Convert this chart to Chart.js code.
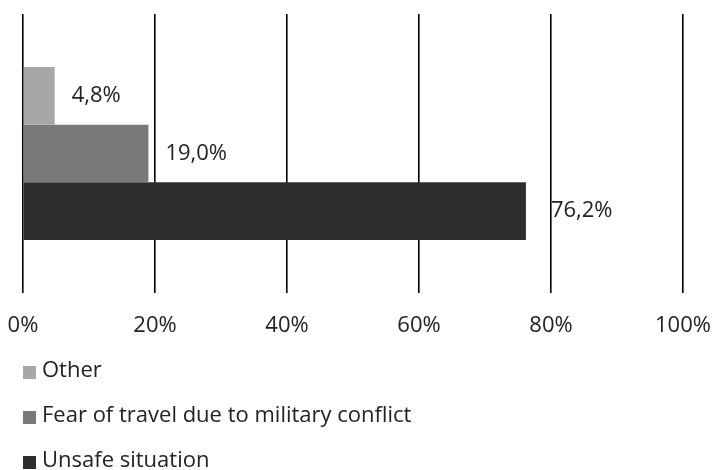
<!DOCTYPE html>
<html>
<head>
<meta charset="utf-8">
<script src="https://cdn.jsdelivr.net/npm/chart.js@4/dist/chart.umd.min.js"></script>
<style>
  html, body { margin: 0; padding: 0; background: #fff; }
  canvas { display: block; }
</style>
</head>
<body>
<canvas id="Chart" width="722" height="470"></canvas>
<script>
// データ
let categories = [''];
let seriesNames = ['Other', 'Fear of travel due to military conflict', 'Unsafe situation'];
let seriesValues = [[4.8], [19.0], [76.2]];
let seriesColors = ['#a6a8a7', '#787a77', '#2d2e30'];
let tickLabels = ['0%', '20%', '40%', '60%', '80%', '100%'];

let fontFamily = '"Open Sans", sans-serif';

// 棒の右にラベルを書く
let valueLabels = {
	id: 'valueLabels',
	afterDatasetsDraw(chart) {
		let ctx = chart.ctx;
		ctx.save();
		ctx.font = '22px ' + fontFamily;
		ctx.fillStyle = '#222';
		ctx.textBaseline = 'middle';
		let offsets = [17, 17, 25];
		chart.data.datasets.forEach((ds, i) => {
			let meta = chart.getDatasetMeta(i);
			meta.data.forEach((bar, j) => {
				let txt = ds.data[j].toFixed(1).replace('.', ',') + '%';
				ctx.fillText(txt, bar.x + offsets[i], bar.y);
			});
		});
		ctx.restore();
	}
};

// 凡例を縦に並べる
let stackedLegend = {
	id: 'stackedLegend',
	afterDraw(chart) {
		let ctx = chart.ctx;
		ctx.save();
		ctx.font = '22px ' + fontFamily;
		ctx.textBaseline = 'middle';
		let y0 = 372;
		chart.data.datasets.forEach((ds, i) => {
			let y = y0 + i * 45;
			ctx.fillStyle = ds.backgroundColor;
			ctx.fillRect(23, y - 6, 13, 13);
			ctx.fillStyle = '#222';
			ctx.fillText(ds.label, 42, y - 1);
		});
		ctx.restore();
	}
};

let barCtx = document.getElementById('Chart');
let barConfig = {
	type: 'bar',
	data: {
		labels: categories,
		datasets: seriesNames.map((name, i) => ({
			label: name,
			data: seriesValues[i],
			backgroundColor: seriesColors[i],
			categoryPercentage: 0.62,
			barPercentage: 1.0,
		})),
	},
	options: {
		indexAxis: 'y',
		responsive: false,
		animation: false,
		layout: {
			padding: { left: 23, right: 39, top: 14, bottom: 117 }
		},
		plugins: {
			legend: { display: false },
			tooltip: { enabled: false },
		},
		scales: {
			x: {
				min: 0,
				max: 100,
				ticks: {
					stepSize: 20,
					padding: 20,
					color: '#222',
					font: { family: fontFamily, size: 22 },
					callback: (v, i) => tickLabels[i],
				},
				grid: { color: '#000', lineWidth: 1.6, drawTicks: false },
				border: { display: false },
				afterFit: (scale) => {
					scale.paddingLeft = 0;
					scale.paddingRight = 0;
					scale.height = 60;
				},
			},
			y: {
				display: false,
			}
		},
	},
	plugins: [valueLabels, stackedLegend],
};
let barChart = new Chart(barCtx, barConfig);
</script>
</body>
</html>
